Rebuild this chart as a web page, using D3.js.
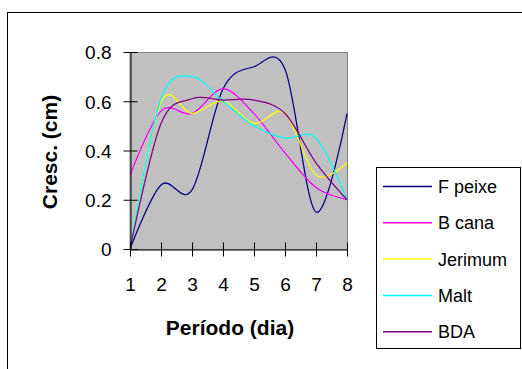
<!DOCTYPE html>
<html>
<head>
<meta charset="utf-8">
<script src="https://cdn.jsdelivr.net/npm/d3@7/dist/d3.min.js"></script>
<style>
  html, body { margin: 0; padding: 0; background: #fff; }
  svg text { font-family: "Liberation Sans", Arial, sans-serif; fill: #000; }
</style>
</head>
<body>
<svg id="chart" width="522" height="369"></svg>
<script>
// Growth per day for each medium
const days = [1, 2, 3, 4, 5, 6, 7, 8];
const fPeixe  = [0, 0.26, 0.24, 0.65, 0.74, 0.73, 0.15, 0.55];
const bCana   = [0.30, 0.56, 0.55, 0.65, 0.55, 0.39, 0.25, 0.20];
const jerimum = [0, 0.595, 0.55, 0.60, 0.51, 0.55, 0.30, 0.35];
const malt    = [0, 0.61, 0.70, 0.60, 0.50, 0.45, 0.45, 0.20];
const bda     = [0, 0.51, 0.61, 0.605, 0.605, 0.55, 0.35, 0.20];
const seriesNames = ["F peixe", "B cana", "Jerimum", "Malt", "BDA"];
const seriesColors = ["#000080", "#FF00FF", "#FFFF00", "#00FFFF", "#800080"];
const yTicks = [0, 0.2, 0.4, 0.6, 0.8];
const xTitle = "Período (dia)";
const yTitle = "Cresc. (cm)";

const seriesValues = [fPeixe, bCana, jerimum, malt, bda];
const series = seriesNames.map((name, i) => ({
  name, color: seriesColors[i],
  points: days.map((d, j) => ({ x: d, y: seriesValues[i][j] }))
}));

const svg = d3.select("#chart");

// outer chart frame (runs past the right and bottom edges)
svg.append("rect")
  .attr("x", 7.5).attr("y", 12.5)
  .attr("width", 600).attr("height", 400)
  .attr("fill", "#fff").attr("stroke", "#000").attr("stroke-width", 1);

const plot = { left: 130, right: 347, top: 52, bottom: 249 };
const x = d3.scaleLinear().domain([1, 8]).range([plot.left, plot.right]);
const y = d3.scaleLinear().domain([0, 0.8]).range([plot.bottom, plot.top]);

// plot area
svg.append("rect")
  .attr("x", plot.left).attr("y", plot.top + 0.5)
  .attr("width", plot.right - plot.left + 0.5).attr("height", plot.bottom - plot.top)
  .attr("fill", "#C0C0C0").attr("stroke", "#808080").attr("stroke-width", 1);

// series lines, smoothed
svg.append("clipPath").attr("id", "plotClip")
  .append("rect").attr("x", plot.left).attr("y", plot.top - 1)
  .attr("width", plot.right - plot.left + 1).attr("height", plot.bottom - plot.top + 2);

const line = d3.line()
  .x(d => x(d.x)).y(d => y(d.y))
  .curve(d3.curveCardinal.tension(0));

svg.append("g").attr("clip-path", "url(#plotClip)")
  .selectAll("path").data(series).join("path")
  .attr("d", d => line(d.points))
  .attr("fill", "none")
  .attr("stroke", d => d.color)
  .attr("stroke-width", 1.25);

// y axis
const yAxis = svg.append("g")
  .attr("transform", `translate(${plot.left + 0.5},0)`)
  .call(d3.axisLeft(y).tickValues(yTicks).tickSizeInner(7).tickSizeOuter(0)
    .tickFormat(d => d === 0 ? "0" : d3.format(".1f")(d)));
yAxis.selectAll(".tick line").attr("x1", 7).attr("x2", -7).attr("stroke", "#000");
yAxis.select(".domain").attr("stroke", "#000");
yAxis.selectAll(".tick text")
  .attr("x", -19).attr("dy", "0.36em")
  .style("font-size", "19px");

// x axis
const xAxis = svg.append("g")
  .attr("transform", `translate(0,${plot.bottom + 0.5})`)
  .call(d3.axisBottom(x).tickValues(days).tickSizeInner(7).tickSizeOuter(0)
    .tickFormat(d3.format("d")));
xAxis.selectAll(".tick line").attr("y1", -7).attr("y2", 7).attr("stroke", "#000");
xAxis.select(".domain").attr("stroke", "#000");
xAxis.selectAll(".tick text")
  .attr("y", 35).attr("dy", "0.36em")
  .style("font-size", "19px");

// axis titles
svg.append("text")
  .attr("x", 230).attr("y", 335)
  .attr("text-anchor", "middle")
  .style("font-size", "21px").style("font-weight", "bold")
  .text(xTitle);

svg.append("text")
  .attr("transform", `translate(57,152) rotate(-90)`)
  .attr("text-anchor", "middle")
  .style("font-size", "21px").style("font-weight", "bold")
  .text(yTitle);

// legend
const legend = svg.append("g");
legend.append("rect")
  .attr("x", 376.5).attr("y", 167.5)
  .attr("width", 144).attr("height", 181)
  .attr("fill", "#fff").attr("stroke", "#000").attr("stroke-width", 1);

const rows = legend.selectAll("g.row").data(series).join("g")
  .attr("class", "row")
  .attr("transform", (d, i) => `translate(0,${186.5 + i * 36.3})`);
rows.append("line")
  .attr("x1", 383).attr("x2", 432)
  .attr("stroke", d => d.color).attr("stroke-width", 1.5);
rows.append("text")
  .attr("x", 438).attr("dy", "0.36em")
  .style("font-size", "18px")
  .text(d => d.name);
</script>
</body>
</html>
